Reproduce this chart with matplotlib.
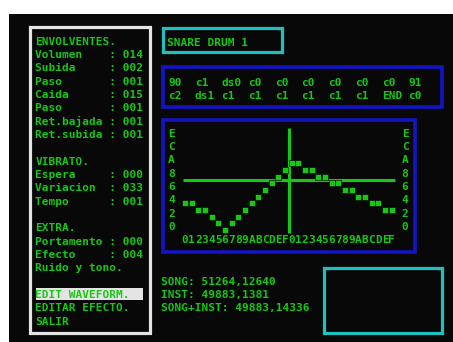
import matplotlib.pyplot as plt
from matplotlib.patches import Rectangle

# ---- data ----
envelope_labels = ["Volumen", "Subida", "Paso", "Caida", "Paso", "Ret.bajada", "Ret.subida"]
envelope_values = ["014", "002", "001", "015", "001", "001", "001"]
vibrato_labels = ["Espera", "Variacion", "Tempo"]
vibrato_values = ["000", "033", "001"]
extra_labels = ["Portamento", "Efecto"]
extra_values = ["000", "004"]
menu_items = ["EDIT WAVEFORM.", "EDITAR EFECTO.", "SALIR"]

instrument_name = "SNARE DRUM 1"
seq_row1 = ["90", "c1", "ds0", "c0", "c0", "c0", "c0", "c0", "c0", "91"]
seq_row2 = ["c2", "ds1", "c1", "c1", "c1", "c1", "c1", "c1", "END", "c0"]

wave_levels = [4, 4, 3, 3, 2, 1, 0, 1, 2, 3, 4, 5, 6, 7, 8, 9,
               10, 10, 9, 9, 8, 8, 7, 7, 6, 6, 5, 5, 4, 4, 3, 3]
cursor_col = 15.6
cursor_level = 7.5
y_tick_values = [14, 12, 10, 8, 6, 4, 2, 0]
y_tick_labels = ["E", "C", "A", "8", "6", "4", "2", "0"]
x_tick_labels = list("0123456789ABCDEF0123456789ABCDEF")

mem_labels = ["SONG", "INST", "SONG+INST"]
mem_values = ["51264,12640", "49883,1381", "49883,14336"]

# ---- look ----
W, H = 453, 342
GREEN = "#14c814"
BLUE = "#1414c4"
CYAN = "#1ec0c0"
WHITE = "#e4e4e4"
BG = "#080808"
CW = 6.67          # character cell width (px)
LH = 13.33         # line height (px)
FONT = dict(family="DejaVu Sans Mono", fontsize=8.0, fontweight="bold", color=GREEN)

fig = plt.figure(figsize=(W / 100, H / 100), dpi=100, facecolor="white")
ax = fig.add_axes([0, 0, 1, 1])
ax.set_xlim(0, W)
ax.set_ylim(H, 0)
ax.axis("off")

def box(x0, y0, x1, y1, color, lw=2.3, fc="none", z=2):
    ax.add_patch(Rectangle((x0, y0), x1 - x0, y1 - y0, fill=fc != "none",
                           facecolor=fc, edgecolor=color, lw=lw, zorder=z))

def put(x, y, s, **kw):
    opts = dict(FONT)
    opts.update(kw)
    ax.text(x, y + 4.3, s, ha="left", va="baseline", zorder=5, **opts)

# screen
box(9, 14, W, H, "black", lw=0, fc=BG, z=0)

# left panel
box(29.5, 26.5, 149.5, 333, WHITE)
panel = [("ENVOLVENTES.", None)]
panel += list(zip(envelope_labels, envelope_values))
panel += [None, ("VIBRATO.", None)] + list(zip(vibrato_labels, vibrato_values))
panel += [None, ("EXTRA.", None)] + list(zip(extra_labels, extra_values))
panel += [("Ruido y tono.", None), None] + [(m, None) for m in menu_items]
for i, row in enumerate(panel):
    if row is None:
        continue
    lab, val = row
    y = 40.5 + LH * i
    if lab == menu_items[0]:
        box(36, y - 6.2, 143.3, y + 5.8, WHITE, lw=0, fc=WHITE, z=3)
    put(35.2, y, lab if val is None else f"{lab:<11}: {val}")

# instrument name box
box(162.5, 27.5, 281.5, 51.5, CYAN)
put(167.2, 41.3, instrument_name)

# sequence box
box(162.5, 66.5, 441.5, 106.5, BLUE, lw=2.6)
for j, (a, b) in enumerate(zip(seq_row1, seq_row2)):
    put(168.2 + 4 * CW * j, 81.3, a)
    put(168.2 + 4 * CW * j, 95.0, b)

# waveform box
box(163.3, 120, 415.3, 252, BLUE, lw=2.6)

# waveform axes: one cell per column/level, origin at column 0 / level 0
x0_px, y0_px = 185.0, 230.0
wx = fig.add_axes([0, 0, 1, 1], facecolor="none")
wx.set_xlim(-x0_px / CW, (W - x0_px) / CW)
wx.set_ylim((y0_px - H) / CW, y0_px / CW)
wx.axis("off")

cols = range(len(wave_levels))
wx.hlines(cursor_level, -0.3, len(wave_levels) - 0.5, color=GREEN, lw=2.2, zorder=2)
wx.vlines(cursor_col, -0.45, 15.3, color=GREEN, lw=2.2, zorder=2)
wx.scatter(cols, wave_levels, marker="s", s=22, color=GREEN,
           edgecolors=BG, linewidths=0.45, zorder=3)

tfont = dict(FONT)
for v, lab in zip(y_tick_values, y_tick_labels):
    wx.text(-2, v + 0.45, lab, ha="center", va="center", **tfont)
    wx.text(len(wave_levels) + 1, v + 0.45, lab, ha="center", va="center", **tfont)
for c, lab in enumerate(x_tick_labels):
    wx.text(c, -1.5, lab, ha="center", va="center", **tfont)

# memory info
for k, (lab, val) in enumerate(zip(mem_labels, mem_values)):
    put(161.2, 280.3 + LH * k, f"{lab}: {val}")

# empty box bottom right
box(323.5, 267.5, 441.5, 332.5, CYAN)

fig.savefig("out.png", dpi=100, facecolor=fig.get_facecolor())
